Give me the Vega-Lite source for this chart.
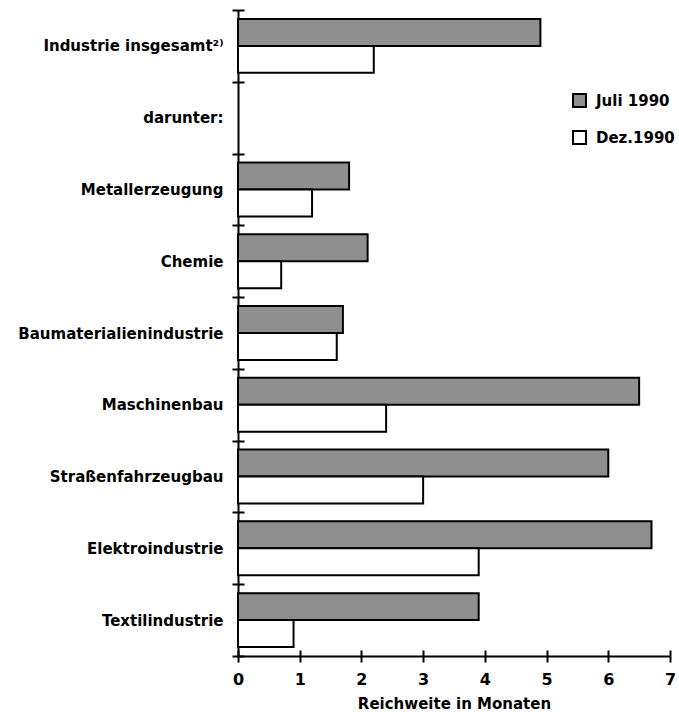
{
  "$schema": "https://vega.github.io/schema/vega-lite/v6.json",
  "width": 432,
  "height": 646,
  "autosize": {"type": "none"},
  "padding": {"left": 238, "top": 10, "right": 9, "bottom": 56},
  "background": "white",
  "config": {
    "view": {"stroke": null},
    "font": "DejaVu Sans",
    "axis": {
      "domainColor": "black", "domainWidth": 2, "tickColor": "black", "tickWidth": 2,
      "labelColor": "black", "titleColor": "black", "labelFont": "DejaVu Sans",
      "titleFont": "DejaVu Sans", "labelFontWeight": "bold", "titleFontWeight": "bold", "grid": false
    }
  },
  "data": {
    "values": [
      {"kategorie": "Industrie insgesamt²⁾", "zeitpunkt": "Juli 1990", "reichweite": 4.9},
      {"kategorie": "Industrie insgesamt²⁾", "zeitpunkt": "Dez.1990", "reichweite": 2.2},
      {"kategorie": "Metallerzeugung", "zeitpunkt": "Juli 1990", "reichweite": 1.8},
      {"kategorie": "Metallerzeugung", "zeitpunkt": "Dez.1990", "reichweite": 1.2},
      {"kategorie": "Chemie", "zeitpunkt": "Juli 1990", "reichweite": 2.1},
      {"kategorie": "Chemie", "zeitpunkt": "Dez.1990", "reichweite": 0.7},
      {"kategorie": "Baumaterialienindustrie", "zeitpunkt": "Juli 1990", "reichweite": 1.7},
      {"kategorie": "Baumaterialienindustrie", "zeitpunkt": "Dez.1990", "reichweite": 1.6},
      {"kategorie": "Maschinenbau", "zeitpunkt": "Juli 1990", "reichweite": 6.5},
      {"kategorie": "Maschinenbau", "zeitpunkt": "Dez.1990", "reichweite": 2.4},
      {"kategorie": "Straßenfahrzeugbau", "zeitpunkt": "Juli 1990", "reichweite": 6.0},
      {"kategorie": "Straßenfahrzeugbau", "zeitpunkt": "Dez.1990", "reichweite": 3.0},
      {"kategorie": "Elektroindustrie", "zeitpunkt": "Juli 1990", "reichweite": 6.7},
      {"kategorie": "Elektroindustrie", "zeitpunkt": "Dez.1990", "reichweite": 3.9},
      {"kategorie": "Textilindustrie", "zeitpunkt": "Juli 1990", "reichweite": 3.9},
      {"kategorie": "Textilindustrie", "zeitpunkt": "Dez.1990", "reichweite": 0.9}
    ]
  },
  "layer": [
    {
      "mark": {"type": "bar", "stroke": "black", "strokeWidth": 2},
      "encoding": {
        "y": {
          "field": "kategorie", "type": "nominal",
          "scale": {
            "domain": ["Industrie insgesamt²⁾", "darunter:", "Metallerzeugung", "Chemie", "Baumaterialienindustrie", "Maschinenbau", "Straßenfahrzeugbau", "Elektroindustrie", "Textilindustrie"],
            "paddingInner": 0, "paddingOuter": 0
          },
          "axis": {"title": null, "tickBand": "extent", "tickSize": 6, "labelPadding": 9, "labelFontSize": 15, "labelLimit": 0, "domain": true, "domainWidth": 2}
        },
        "yOffset": {
          "field": "zeitpunkt", "type": "nominal",
          "sort": ["Juli 1990", "Dez.1990"],
          "scale": {"paddingInner": 0, "paddingOuter": 0.33}
        },
        "x": {
          "field": "reichweite", "type": "quantitative",
          "scale": {"domain": [0, 7], "nice": false},
          "axis": {"title": "Reichweite in Monaten", "values": [0, 1, 2, 3, 4, 5, 6, 7], "format": "d", "labelFlush": false, "tickSize": 6, "labelPadding": 9, "labelFontSize": 16, "titleFontSize": 15, "titlePadding": 9, "domain": true}
        },
        "fill": {
          "field": "zeitpunkt", "type": "nominal",
          "scale": {"domain": ["Juli 1990", "Dez.1990"], "range": ["#8f8f8f", "white"]},
          "legend": {
            "title": null, "orient": "none", "legendX": 334, "legendY": 83,
            "symbolType": "square", "symbolSize": 169, "symbolStrokeColor": "black", "symbolStrokeWidth": 2,
            "labelFontSize": 15, "labelFontWeight": "bold", "labelColor": "black", "labelFont": "DejaVu Sans",
            "labelOffset": 9, "rowPadding": 16
          }
        }
      }
    },
    {
      "mark": {"type": "bar", "opacity": 0},
      "encoding": {
        "y": {
          "field": "kategorie", "type": "nominal",
          "axis": {"orient": "left", "title": null, "tickBand": "extent", "tickSize": -6, "labels": false, "domain": false}
        },
        "yOffset": {"field": "zeitpunkt", "type": "nominal", "sort": ["Juli 1990", "Dez.1990"]},
        "x": {
          "field": "reichweite", "type": "quantitative",
          "axis": {"orient": "bottom", "title": null, "values": [0, 1, 2, 3, 4, 5, 6, 7], "tickSize": -6, "labels": false, "domain": false}
        }
      }
    }
  ],
  "resolve": {"axis": {"x": "independent", "y": "independent"}}
}
